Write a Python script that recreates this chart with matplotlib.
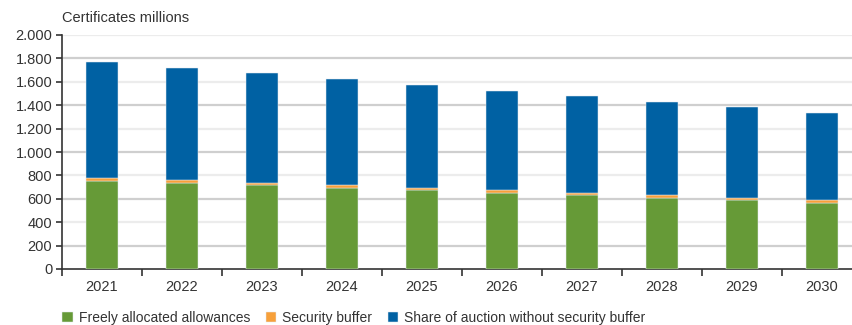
import matplotlib.pyplot as plt
import matplotlib.ticker as mticker
import numpy as np

# values (certificates, millions)
years = ["2021", "2022", "2023", "2024", "2025", "2026", "2027", "2028", "2029", "2030"]
freely_allocated = [755, 735, 715, 695, 672, 652, 630, 610, 587, 567]
security_buffer = [25, 25, 23, 22, 22, 21, 20, 20, 20, 20]
auction_share = [989, 960, 934, 906, 881, 852, 827, 800, 776, 748]

green = "#669a37"
orange = "#f7a03a"
blue = "#0061a3"

plt.rcParams["font.family"] = ["Liberation Sans", "DejaVu Sans"]
plt.rcParams["font.size"] = 10.5

fig = plt.figure(figsize=(8.53, 3.25), dpi=100)
ax = fig.add_axes([62 / 853, 56 / 325, 800 / 853, 234 / 325])

x = np.arange(len(years))
green_vals = np.array(freely_allocated)
orange_vals = np.array(security_buffer)
blue_vals = np.array(auction_share)

bar_kw = dict(width=0.4, edgecolor="#e4eaf0", linewidth=0.35, zorder=3)
ax.bar(x, green_vals, color=green, label="Freely allocated allowances", **bar_kw)
ax.bar(x, orange_vals, bottom=green_vals, color=orange, label="Security buffer", **bar_kw)
ax.bar(x, blue_vals, bottom=green_vals + orange_vals, color=blue,
       label="Share of auction without security buffer", **bar_kw)

ax.set_xlim(-0.5, len(years) - 0.5)
ax.set_ylim(0, 2000)

# alternating grid shades
for i, val in enumerate(range(200, 2001, 200)):
    col = "#cfcfcf" if i % 2 == 0 else "#ececec"
    ax.axhline(val, color=col, linewidth=1.6, zorder=0)

ax.set_yticks(range(0, 2001, 200))
ax.yaxis.set_major_formatter(mticker.FuncFormatter(lambda v, p: f"{int(v):,}".replace(",", ".")))
ax.set_xticks(x)
ax.set_xticklabels(years)
ax.set_xticks(np.arange(-0.5, len(years), 1), minor=True)
ax.tick_params(axis="x", which="major", length=0, pad=8, labelsize=10.5, colors="#333333")
ax.tick_params(axis="x", which="minor", length=5, width=1.2, color="#333333")
ax.tick_params(axis="y", length=4, width=1.2, color="#333333", labelsize=10.5, labelcolor="#333333", pad=3)

for s in ["top", "right"]:
    ax.spines[s].set_visible(False)
for s in ["left", "bottom"]:
    ax.spines[s].set_color("#333333")
    ax.spines[s].set_linewidth(1.2)

fig.text(62 / 853, 1 - 18 / 325, "Certificates millions", fontsize=10.5, color="#333333", va="center")

fig.legend(loc="center left", bbox_to_anchor=(50 / 853, 1 - 318 / 325), ncol=3, frameon=False,
           handlelength=0.75, handleheight=0.75, handletextpad=0.45, columnspacing=1.1,
           fontsize=10, labelcolor="#333333")

fig.savefig("out.png", dpi=100)
